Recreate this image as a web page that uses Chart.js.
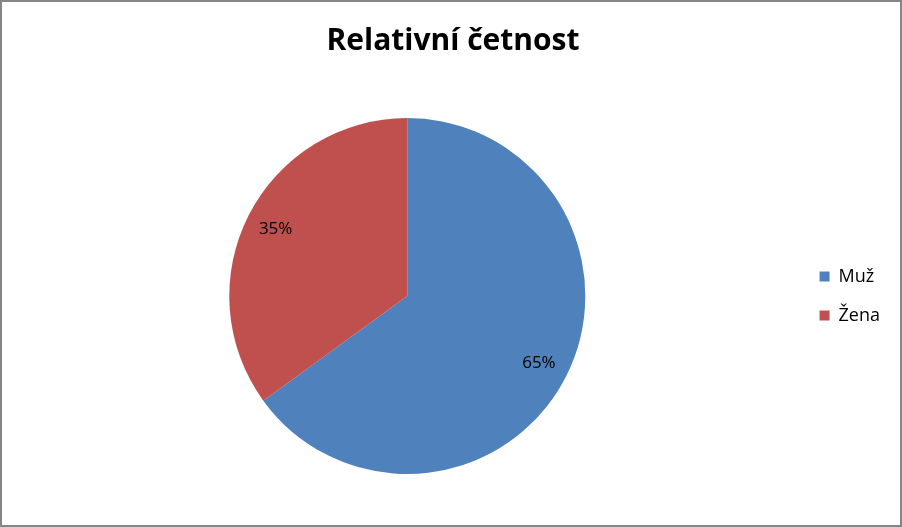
<!DOCTYPE html>
<html>
<head>
<meta charset="utf-8">
<script src="https://cdn.jsdelivr.net/npm/chart.js@4/dist/chart.umd.min.js"></script>
<style>
  html, body { margin: 0; padding: 0; background: #fff; }
  #wrap { width: 902px; height: 527px; box-sizing: border-box; border: 2px solid #868686; }
</style>
</head>
<body>
<div id="wrap"><canvas id="chartCetnost" width="898" height="523"></canvas></div>
<script>
const kategorie = ['Muž', 'Žena'];
const hodnoty = [65, 35];
const barvy = ['#4F81BD', '#C0504D'];

// procenta dovnitr vysece
const popiskyPlugin = {
  id: 'popisky',
  afterDatasetsDraw(chart) {
    const ctx = chart.ctx;
    const meta = chart.getDatasetMeta(0);
    const total = hodnoty.reduce((a, b) => a + b, 0);
    ctx.save();
    ctx.font = '17px "Open Sans"';
    ctx.fillStyle = '#000';
    ctx.textAlign = 'center';
    ctx.textBaseline = 'middle';
    meta.data.forEach((arc, i) => {
      const p = arc.getProps(['x', 'y', 'startAngle', 'endAngle', 'outerRadius']);
      const mid = (p.startAngle + p.endAngle) / 2;
      const r = p.outerRadius * 0.83;
      const pct = Math.round(hodnoty[i] / total * 100) + '%';
      ctx.fillText(pct, p.x + Math.cos(mid) * r, p.y + Math.sin(mid) * r);
    });
    ctx.restore();
  }
};

const ctx = document.getElementById('chartCetnost').getContext('2d');
const myChart = new Chart(ctx, {
  type: 'pie',
  data: {
    labels: kategorie,
    datasets: [{
      data: hodnoty,
      backgroundColor: barvy,
      borderWidth: 0
    }]
  },
  options: {
    responsive: false,
    animation: false,
    layout: {
      padding: { left: 14, right: 10, top: 0, bottom: 51 }
    },
    plugins: {
      title: {
        display: true,
        text: 'Relativní četnost',
        color: '#000',
        font: { family: '"Open Sans"', size: 30, weight: 'bold' },
        padding: { top: 21, bottom: 59 }
      },
      legend: {
        position: 'right',
        fullSize: false,
        labels: {
          boxWidth: 10,
          boxHeight: 10,
          color: '#000',
          padding: 21,
          font: { family: '"Open Sans"', size: 18 }
        }
      },
      tooltip: { enabled: false }
    }
  },
  plugins: [popiskyPlugin]
});
</script>
</body>
</html>
